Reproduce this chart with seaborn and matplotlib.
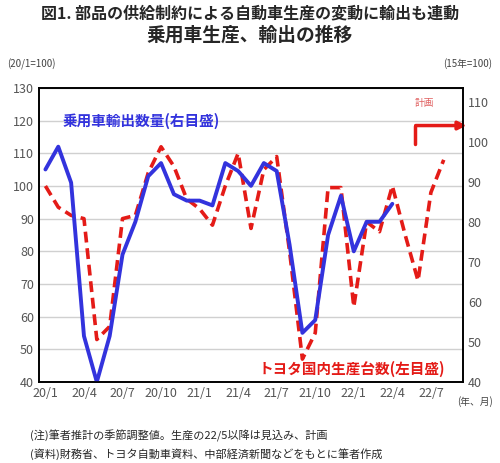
import matplotlib.pyplot as plt
import seaborn as sns
import numpy as np

sns.set_style("white")
plt.rcParams['font.family'] = ['Noto Sans CJK JP', 'DejaVu Sans']

# months 20/1 .. 22/8
months = [f"{y}/{m}" for y in (20, 21, 22) for m in range(1, 13)][:32]
toyota_prod = [100, 93.5, 91, 90, 53, 57, 90, 91, 104, 112, 106, 96, 93, 88, 100, 110,
               87, 105, 109, 80, 47, 55, 99.5, 99.5, 63, 89, 86, 100, 85, 71, 98, 108]
car_export = [93.2, 98.9, 89.9, 51.5, 40, 51.5, 71.9, 80.1, 91.5, 94.8, 87.0, 85.4, 85.4,
              84.2, 94.8, 92.8, 89.1, 94.8, 92.8, 74.4, 52.3, 55.5, 76.8, 86.6, 72.7, 80.1,
              80.1, 84.6]
tick_labels = ["20/1", "20/4", "20/7", "20/10", "21/1", "21/4", "21/7", "21/10", "22/1", "22/4", "22/7"]

fig = plt.figure(figsize=(5.0, 4.63), dpi=100)
ax = fig.add_axes([0.078, 0.175, 0.848, 0.635])
ax2 = ax.twinx()

x_red = np.arange(len(toyota_prod))
x_blue = np.arange(len(car_export))
sns.lineplot(x=x_red, y=toyota_prod, ax=ax, color="#e41b17", lw=2.6, linestyle=(0, (3, 1.6)))
sns.lineplot(x=x_blue, y=car_export, ax=ax2, color="#3333dd", lw=2.8)

ax.set_xlim(-0.5, 32.5)
ax.set_ylim(40, 130)
ax2.set_ylim(40, 113.6)
ax.set_yticks(range(40, 131, 10))
ax2.set_yticks(range(40, 111, 10))
ax.set_xticks(range(0, 31, 3))
ax.set_xticklabels(tick_labels)
ax.grid(axis='y', color="#d0d0d0", lw=1)
for a in (ax, ax2):
    a.tick_params(labelsize=9, colors="#555555", length=0)
    for s in a.spines.values():
        s.set_color("black")
        s.set_linewidth(1.2)

ax.text(1.3, 120, "乗用車輸出数量(右目盛)", color="#3333dd", fontsize=10.5, weight='bold', va='center')
ax.text(16.6, 44, "トヨタ国内生産台数(左目盛)", color="#e41b17", fontsize=10.5, weight='bold', va='center')
ax.text(29.5, 125.5, "計画", color="#e06060", fontsize=7, ha='center', va='center')
ax.plot([28.8, 28.8], [113, 118.5], color="#e41b17", lw=2.5)
ax.annotate("", xy=(33.0, 118.5), xytext=(28.6, 118.5),
            arrowprops=dict(arrowstyle="-|>", color="#e41b17", lw=2.5, mutation_scale=12),
            annotation_clip=False)

fig.text(0.5, 0.972, "図1. 部品の供給制約による自動車生産の変動に輸出も連動", fontsize=11.5, weight='bold', ha='center', va='center')
fig.text(0.5, 0.925, "乗用車生産、輸出の推移", fontsize=13.5, weight='bold', ha='center', va='center')
fig.text(0.015, 0.862, "(20/1=100)", fontsize=7, color="#444444", va='center')
fig.text(0.985, 0.862, "(15年=100)", fontsize=7, color="#444444", va='center', ha='right')
fig.text(0.985, 0.132, "(年、月)", fontsize=7, color="#444444", va='center', ha='right')
fig.text(0.06, 0.058, "(注)筆者推計の季節調整値。生産の22/5以降は見込み、計画", fontsize=8, va='center')
fig.text(0.06, 0.02, "(資料)財務省、トヨタ自動車資料、中部経済新聞などをもとに筆者作成", fontsize=8, va='center')

fig.savefig("out.png", dpi=100)
